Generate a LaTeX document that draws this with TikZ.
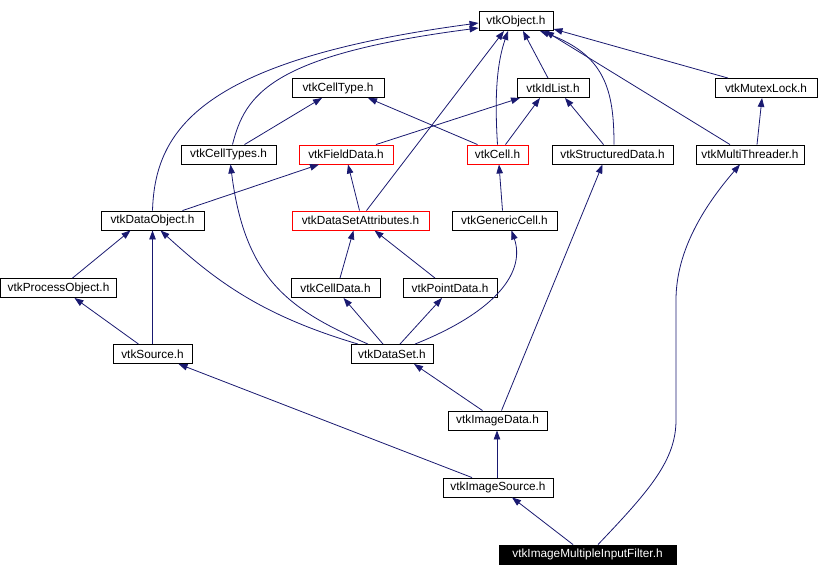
\documentclass[tikz,border=0pt]{standalone}
\usepackage{fontspec}
\setmainfont{Liberation Sans}
\usetikzlibrary{arrows.meta}
\definecolor{edgeblue}{RGB}{25,25,112}
\definecolor{hdrred}{RGB}{255,0,0}

\begin{document}
\begin{tikzpicture}[x=1pt, y=-1pt,
        hdr/.style={draw=black, line width=0.9pt, minimum height=19pt, inner sep=0pt,
                    font=\fontsize{11.8}{13}\selectfont},
        redhdr/.style={hdr, draw=hdrred},
        tophdr/.style={hdr, fill=black, text=white},
        arr/.style={-{Triangle[length=9pt,width=6.5pt]}, line width=0.8pt, edgeblue}
      ]
        \useasboundingbox (0,0) rectangle (818,576);
        \node[hdr, minimum width=74pt] (obj) at (516,21) {vtkObject.h};
        \node[hdr, minimum width=92pt] (ct) at (338,88) {vtkCellType.h};
        \node[hdr, minimum width=72pt] (idl) at (553,88) {vtkIdList.h};
        \node[hdr, minimum width=102pt] (mtx) at (766,88) {vtkMutexLock.h};
        \node[hdr, minimum width=95pt] (cts) at (228.5,154.5) {vtkCellTypes.h};
        \node[redhdr, minimum width=94pt] (fd) at (346,154.5) {vtkFieldData.h};
        \node[redhdr, minimum width=61pt] (cell) at (497.5,154.5) {vtkCell.h};
        \node[hdr, minimum width=121pt] (sd) at (612.5,154.5) {vtkStructuredData.h};
        \node[hdr, minimum width=108pt] (mt) at (750,154.5) {vtkMultiThreader.h};
        \node[hdr, minimum width=103pt] (dobj) at (152.5,220.5) {vtkDataObject.h};
        \node[redhdr, minimum width=137pt] (dsa) at (360.5,220.5) {vtkDataSetAttributes.h};
        \node[hdr, minimum width=105pt] (gc) at (504.5,220.5) {vtkGenericCell.h};
        \node[hdr, minimum width=116pt] (po) at (58.5,288) {vtkProcessObject.h};
        \node[hdr, minimum width=89pt] (cd) at (335.5,288) {vtkCellData.h};
        \node[hdr, minimum width=94pt] (pd) at (450,288) {vtkPointData.h};
        \node[hdr, minimum width=79pt] (src) at (152.5,354) {vtkSource.h};
        \node[hdr, minimum width=82pt] (ds) at (392,354) {vtkDataSet.h};
        \node[hdr, minimum width=99pt] (imd) at (497.5,420.5) {vtkImageData.h};
        \node[hdr, minimum width=110pt] (ims) at (498,487.5) {vtkImageSource.h};
        \node[tophdr, minimum width=177pt] (flt) at (587.5,554.5) {vtkImageMultipleInputFilter.h};

        % includes of vtkObject.h
        \draw[arr] (dobj.north) .. controls (155,130) and (200,60) .. ([yshift=-2pt]obj.west);
        \draw[arr] ([xshift=4pt]cts.north) .. controls (245,95) and (270,55) .. ([yshift=-7pt]obj.west);
        \draw[arr] ([xshift=6pt]dsa.north) -- ([xshift=-12pt]obj.south);
        \draw[arr] (cell.north) .. controls (494,90) and (498,60) .. ([xshift=-8pt]obj.south);
        \draw[arr] ([xshift=-5pt]idl.north) -- ([xshift=7pt]obj.south);
        \draw[arr] ([xshift=1.5pt]sd.north) .. controls (614,90) and (605,55) .. ([xshift=24pt]obj.south);
        \draw[arr] ([xshift=-20pt]mt.north) -- ([xshift=29pt]obj.south);
        \draw[arr] ([xshift=-38pt]mtx.north) -- ([yshift=-8pt]obj.east);

        \draw[arr] ([xshift=16pt]cts.north) -- ([xshift=-16pt]ct.south);
        \draw[arr] ([xshift=-20pt]cell.north) -- ([xshift=30pt]ct.south);
        \draw[arr] ([xshift=30pt]fd.north) -- ([xshift=-33pt]idl.south);
        \draw[arr] ([xshift=8pt]cell.north) -- ([xshift=-13pt]idl.south);
        \draw[arr] ([xshift=-9pt]sd.north) -- ([xshift=12pt]idl.south);
        \draw[arr] ([xshift=7pt]mt.north) -- ([xshift=-4pt]mtx.south);
        \draw[arr] ([xshift=30pt]dobj.north) -- ([xshift=-27pt]fd.south);
        \draw[arr] ([xshift=-1pt]dsa.north) -- ([xshift=2pt]fd.south);
        \draw[arr] ([xshift=-2pt]gc.north) -- ([xshift=1.5pt]cell.south);
        \draw[arr] ([xshift=14pt]po.north) -- ([xshift=-22pt]dobj.south);
        \draw[arr] (src.north) -- (dobj.south);
        \draw[arr] ([xshift=-34pt]ds.north) .. controls (260,315) and (215,280) .. ([xshift=8pt]dobj.south);
        \draw[arr] ([xshift=-24pt]ds.north) .. controls (290,310) and (245,280) .. ([xshift=2pt]cts.south);
        \draw[arr] ([xshift=4.5pt]cd.north) -- ([xshift=-7pt]dsa.south);
        \draw[arr] ([xshift=-15pt]pd.north) -- ([xshift=14pt]dsa.south);
        \draw[arr] ([xshift=-9pt]ds.north) -- ([xshift=8pt]cd.south);
        \draw[arr] ([xshift=8pt]ds.north) -- ([xshift=-8pt]pd.south);
        \draw[arr] ([xshift=23pt]ds.north) .. controls (500,310) and (525,270) .. ([xshift=7pt]gc.south);
        \draw[arr] ([xshift=-14pt]src.north) -- ([xshift=16pt]po.south);
        \draw[arr] ([xshift=-15pt]imd.north) -- ([xshift=22pt]ds.south);
        \draw[arr] ([xshift=4pt]imd.north) -- ([xshift=-10pt]sd.south);
        \draw[arr] ([xshift=-26pt]ims.north) -- ([xshift=26pt]src.south);
        \draw[arr] ([xshift=-1pt]ims.north) -- ([xshift=-0.5pt]imd.south);
        \draw[arr] ([xshift=-14.5pt]flt.north) -- ([xshift=14pt]ims.south);
        \draw[arr] ([xshift=10.5pt]flt.north) .. controls (650,490) and (676,460) .. (676,420)
                   -- (676,300) .. controls (676,250) and (705,205) .. ([xshift=-10pt]mt.south);
      \end{tikzpicture}
\end{document}
